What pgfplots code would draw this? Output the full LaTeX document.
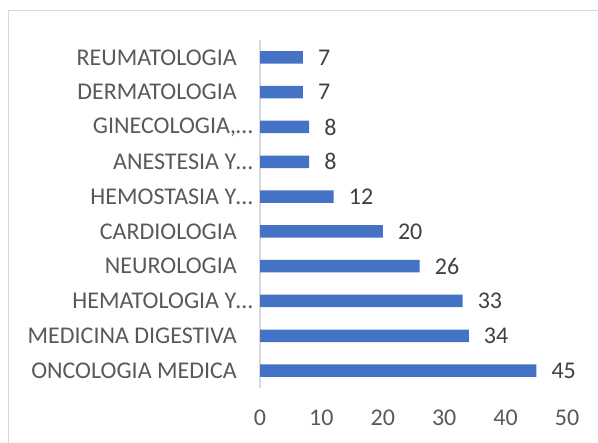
\documentclass[border=0pt]{standalone}
\usepackage{pgfplots}
\pgfplotsset{compat=1.18}
\usepackage{fontspec}
\setmainfont{Carlito}
\definecolor{barblue}{HTML}{4472C4}
\definecolor{ticktxt}{HTML}{595959}
\definecolor{lbltxt}{HTML}{404040}
\definecolor{frame}{HTML}{D9D9D9}
\begin{document}
\begin{tikzpicture}[x=1bp,y=1bp]
\path[use as bounding box] (0,0) rectangle (598,443);
\draw[frame, line width=1.5bp] (8.5,0) -- (8.5,432.5) -- (598,432.5);
\begin{axis}[
  at={(260bp,55bp)}, anchor=south west,
  scale only axis, width=307bp, height=348bp,
  xbar, bar width=12.5bp,
  xmin=0, xmax=50, ymin=-0.5, ymax=9.5,
  xtick={0,10,20,30,40,50},
  ytick={0,...,9},
  yticklabels={{ONCOLOGIA MEDICA\hspace*{16bp}},{MEDICINA DIGESTIVA\hspace*{16bp}},{HEMATOLOGIA Y…},{NEUROLOGIA\hspace*{16bp}},{CARDIOLOGIA\hspace*{16bp}},{HEMOSTASIA Y…},{ANESTESIA Y…},{GINECOLOGIA,…},{DERMATOLOGIA\hspace*{16bp}},{REUMATOLOGIA\hspace*{16bp}}},
  axis lines*=left,
  x axis line style={draw=none},
  y axis line style={draw=frame, line width=1.2bp},
  major tick length=0,
  /pgf/number format/assume math mode=true,
  tick label style={font=\fontsize{24bp}{28bp}\selectfont, text=ticktxt},
  yticklabel style={anchor=east, inner sep=0pt, xshift=-7bp},
  xticklabel style={anchor=center, inner sep=0pt, yshift=-30bp},
  nodes near coords,
  every node near coord/.append style={font=\fontsize{24bp}{28bp}\selectfont, text=lbltxt, anchor=west, inner sep=0pt, xshift=15bp},
  clip=false,
]
\addplot[fill=barblue, draw=none] coordinates {
(45,0) (34,1) (33,2) (26,3) (20,4) (12,5) (8,6) (8,7) (7,8) (7,9)
};
\end{axis}
\end{tikzpicture}
\end{document}
